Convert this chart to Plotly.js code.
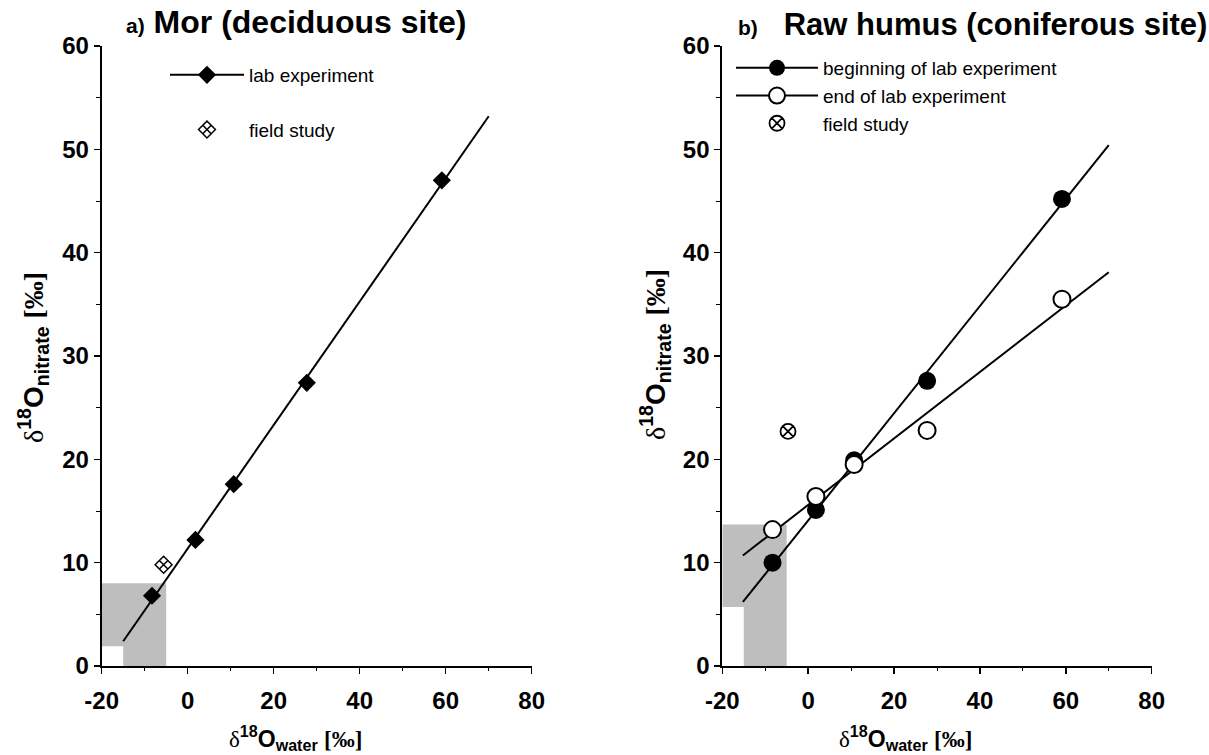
<!DOCTYPE html>
<html>
<head>
<meta charset="utf-8">
<script src="https://cdn.plot.ly/plotly-3.0.1.min.js"></script>
<style>
  html, body { margin: 0; padding: 0; background: #fff; }
  #chart { width: 1209px; height: 755px; }
</style>
</head>
<body>
<div id="chart"></div>
<script>
// ---------- data ----------
const waterDelta = [-8.3, 1.8, 10.7, 27.7, 59.1];

// panel a) Mor (deciduous site)
const labNitrateA = [6.8, 12.2, 17.6, 27.4, 47.0];
const fitXA = [-15, 70];
const fitYA = [2.4, 53.2];
const fieldXA = [-5.6];
const fieldYA = [9.8];
const shadeXA = [-20, -15, -5];   // outer left, notch, right edge
const shadeYA = [0, 1.9, 8.0];    // bottom, notch top, top

// panel b) Raw humus (coniferous site)
const beginNitrateB = [10.0, 15.1, 19.9, 27.6, 45.2];
const endNitrateB = [13.2, 16.4, 19.5, 22.8, 35.5];
const fitXB = [-15.2, 70];
const fitBeginYB = [6.2, 50.4];
const fitEndYB = [10.7, 38.1];
const fieldXB = [-4.7];
const fieldYB = [22.7];
const shadeXB = [-20, -15, -5];
const shadeYB = [0, 5.7, 13.7];

const xTickVals = [-20, 0, 20, 40, 60, 80];
const xTickText = ['-20', '0', '20', '40', '60', '80'];
const yTickVals = [0, 10, 20, 30, 40, 50, 60];

// ---------- helpers ----------
function shadePoly(sx, sy) {
  return {
    x: [sx[0], sx[1], sx[1], sx[2], sx[2], sx[0], sx[0]],
    y: [sy[1], sy[1], sy[0], sy[0], sy[2], sy[2], sy[1]]
  };
}
const SHADE = 'rgb(190,190,190)';
const FONT = 'Liberation Sans, Arial, Helvetica, sans-serif';
const SERIF = 'Liberation Serif,Times New Roman,serif';

const pa = shadePoly(shadeXA, shadeYA);
const pb = shadePoly(shadeXB, shadeYB);

const traces = [
  // ---- panel a ----
  { x: pa.x, y: pa.y, xaxis: 'x', yaxis: 'y', mode: 'lines', fill: 'toself',
    fillcolor: SHADE, line: { width: 0, color: SHADE }, showlegend: false, hoverinfo: 'skip' },
  { x: fitXA, y: fitYA, xaxis: 'x', yaxis: 'y', mode: 'lines',
    line: { color: '#000', width: 2 }, showlegend: false },
  { x: waterDelta, y: labNitrateA, xaxis: 'x', yaxis: 'y', mode: 'markers',
    marker: { symbol: 'diamond', size: 14, color: '#000' }, showlegend: false },
  { x: fieldXA, y: fieldYA, xaxis: 'x', yaxis: 'y', mode: 'markers',
    marker: { symbol: 'diamond-x-open', size: 13, color: '#000', line: { width: 1.5, color: '#000' } },
    showlegend: false },
  { x: [null], y: [null], xaxis: 'x', yaxis: 'y', mode: 'lines+markers', name: 'lab experiment',
    legend: 'legend', legendgroup: 'a1',
    line: { color: '#000', width: 2 }, marker: { symbol: 'diamond', size: 14, color: '#000' } },
  { x: [null], y: [null], xaxis: 'x', yaxis: 'y', mode: 'markers', name: 'field study',
    legend: 'legend', legendgroup: 'a2',
    marker: { symbol: 'diamond-x-open', size: 13, color: '#000', line: { width: 1.5, color: '#000' } } },

  // ---- panel b ----
  { x: pb.x, y: pb.y, xaxis: 'x2', yaxis: 'y2', mode: 'lines', fill: 'toself',
    fillcolor: SHADE, line: { width: 0, color: SHADE }, showlegend: false, hoverinfo: 'skip' },
  { x: fitXB, y: fitBeginYB, xaxis: 'x2', yaxis: 'y2', mode: 'lines',
    line: { color: '#000', width: 2 }, showlegend: false },
  { x: fitXB, y: fitEndYB, xaxis: 'x2', yaxis: 'y2', mode: 'lines',
    line: { color: '#000', width: 2 }, showlegend: false },
  { x: waterDelta, y: beginNitrateB, xaxis: 'x2', yaxis: 'y2', mode: 'markers',
    marker: { symbol: 'circle', size: 18, color: '#000' }, showlegend: false },
  { x: waterDelta, y: endNitrateB, xaxis: 'x2', yaxis: 'y2', mode: 'markers',
    marker: { symbol: 'circle', size: 17, color: '#fff', line: { width: 2, color: '#000' } }, showlegend: false },
  { x: fieldXB, y: fieldYB, xaxis: 'x2', yaxis: 'y2', mode: 'markers',
    marker: { symbol: 'circle-x-open', size: 15, color: '#000', line: { width: 1.8, color: '#000' } },
    showlegend: false },
  { x: [null], y: [null], xaxis: 'x2', yaxis: 'y2', mode: 'lines+markers', name: 'beginning of lab experiment',
    legend: 'legend2', line: { color: '#000', width: 2 }, marker: { symbol: 'circle', size: 16, color: '#000' } },
  { x: [null], y: [null], xaxis: 'x2', yaxis: 'y2', mode: 'lines+markers', name: 'end of lab experiment',
    legend: 'legend2', line: { color: '#000', width: 2 },
    marker: { symbol: 'circle', size: 16, color: '#fff', line: { width: 2, color: '#000' } } },
  { x: [null], y: [null], xaxis: 'x2', yaxis: 'y2', mode: 'markers', name: 'field study',
    legend: 'legend2',
    marker: { symbol: 'circle-x-open', size: 15, color: '#000', line: { width: 1.8, color: '#000' } } }
];

function xAxis(domain, anchor) {
  return {
    domain: domain, anchor: anchor, range: [-20, 80], showgrid: false, zeroline: false,
    showline: true, linecolor: '#000', linewidth: 2,
    ticks: 'outside', ticklen: 6, tickwidth: 1.5, tickcolor: '#000',
    tickmode: 'array', tickvals: xTickVals, ticktext: xTickText,
    ticklabelstandoff: 6,
    minor: { dtick: 10, tick0: 0, ticks: 'outside', ticklen: 3, tickwidth: 1, tickcolor: '#000', showgrid: false },
    tickfont: { family: FONT, size: 24, color: '#000', weight: 'bold' },
    fixedrange: true
  };
}
function yAxis(domain, anchor) {
  return {
    domain: domain, anchor: anchor, range: [0, 60], showgrid: false, zeroline: false,
    showline: true, linecolor: '#000', linewidth: 2,
    ticks: 'outside', ticklen: 6, tickwidth: 1.5, tickcolor: '#000',
    tickmode: 'array', tickvals: yTickVals,
    minor: { dtick: 5, tick0: 0, ticks: 'outside', ticklen: 4, tickwidth: 1, tickcolor: '#000', showgrid: false },
    tickfont: { family: FONT, size: 24, color: '#000', weight: 'bold' },
    fixedrange: true
  };
}

const W = 1209, H = 755;
const yDom = [(H - 666) / H, (H - 46) / H];

const xTitle = '<span style="font-family:' + SERIF + ';font-weight:normal">δ</span><sup>18</sup>O<sub>water</sub> <span style="font-family:' + SERIF + '">[‰]</span>';
const yTitle = '<span style="font-family:' + SERIF + ';font-weight:normal">δ</span><sup>18</sup>O<sub>nitrate</sub> <span style="font-family:' + SERIF + '">[‰]</span>';

const xTitleFont = { family: FONT, size: 23, color: '#000', weight: 'bold' };
const yTitleFont = { family: FONT, size: 28, color: '#000', weight: 'bold' };

const layout = {
  width: W, height: H,
  margin: { l: 0, r: 0, t: 0, b: 0 },
  paper_bgcolor: '#fff', plot_bgcolor: 'rgba(0,0,0,0)',
  xaxis: xAxis([101.7 / W, 531.7 / W], 'y'),
  yaxis: yAxis(yDom, 'x'),
  xaxis2: xAxis([722.3 / W, 1151.7 / W], 'y2'),
  yaxis2: yAxis(yDom, 'x2'),
  showlegend: true,
  legend: {
    x: 165 / W, y: 1 - 56 / H, xanchor: 'left', yanchor: 'top',
    bgcolor: 'rgba(0,0,0,0)', borderwidth: 0, itemwidth: 74,
    tracegroupgap: 27, traceorder: 'grouped',
    font: { family: FONT, size: 19, color: '#000' }
  },
  legend2: {
    x: 731 / W, y: 1 - 49 / H, xanchor: 'left', yanchor: 'top',
    bgcolor: 'rgba(0,0,0,0)', borderwidth: 0, itemwidth: 82,
    tracegroupgap: 0, traceorder: 'normal',
    font: { family: FONT, size: 19, color: '#000' }
  },
  annotations: [
    { xref: 'paper', yref: 'paper', x: 124 / W, y: 1 - 22 / H, xanchor: 'left', yanchor: 'middle',
      showarrow: false, text: '<span style="font-size:21px">a)</span>&nbsp;Mor (deciduous site)',
      font: { family: FONT, size: 32, color: '#000', weight: 'bold' } },
    { xref: 'paper', yref: 'paper', x: 736 / W, y: 1 - 24 / H, xanchor: 'left', yanchor: 'middle',
      showarrow: false, text: '<span style="font-size:21px">b)</span>&nbsp;&nbsp;&nbsp;Raw humus (coniferous site)',
      font: { family: FONT, size: 31, color: '#000', weight: 'bold' } },
    { xref: 'paper', yref: 'paper', x: 295 / W, y: 1 - 738 / H, xanchor: 'center', yanchor: 'middle',
      showarrow: false, text: xTitle, font: xTitleFont },
    { xref: 'paper', yref: 'paper', x: 905 / W, y: 1 - 738 / H, xanchor: 'center', yanchor: 'middle',
      showarrow: false, text: xTitle, font: xTitleFont },
    { xref: 'paper', yref: 'paper', x: 33 / W, y: 1 - 358 / H, xanchor: 'center', yanchor: 'middle',
      showarrow: false, textangle: -90, text: yTitle, font: yTitleFont },
    { xref: 'paper', yref: 'paper', x: 655 / W, y: 1 - 355 / H, xanchor: 'center', yanchor: 'middle',
      showarrow: false, textangle: -90, text: yTitle, font: yTitleFont }
  ]
};

Plotly.newPlot('chart', traces, layout, { displayModeBar: false, staticPlot: true });
</script>
</body>
</html>
